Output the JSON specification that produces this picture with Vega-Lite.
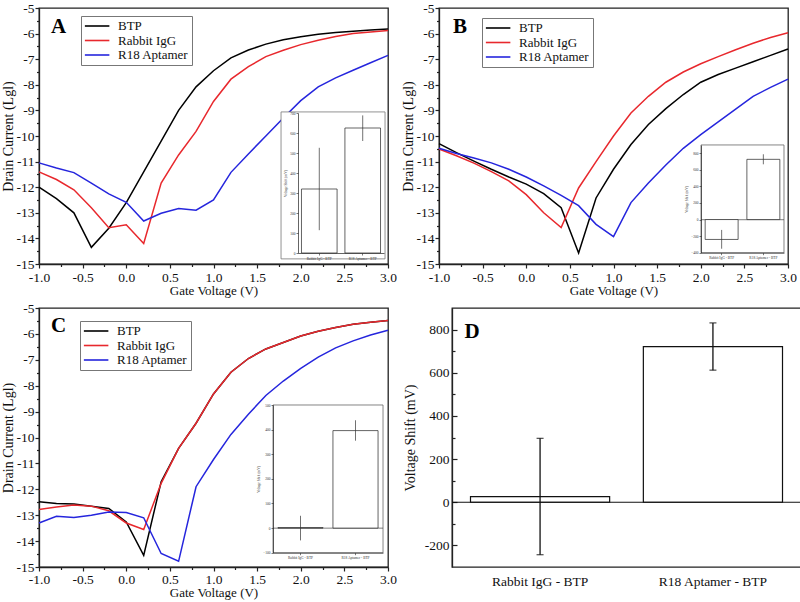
{
"$schema":"https://vega.github.io/schema/vega-lite/v6.json",
"background":"white",
"padding":{"left":0,"top":0,"right":0,"bottom":0},
"config":{
 "font":"Liberation Serif",
 "view":{"stroke":"#222","strokeWidth":1.3},
 "axis":{"labelFont":"Liberation Serif","titleFont":"Liberation Serif","labelFontSize":13.5,"titleFontSize":13,"titleFontWeight":"normal","labelColor":"#111","titleColor":"#111","domainColor":"#222","tickColor":"#222","grid":false,"domainWidth":1.3,"tickWidth":1.2}
},
"datasets":{
"curves":[
{"p":"A","s":"BTP","v":-1,"i":-12.0},{"p":"A","s":"BTP","v":-0.8,"i":-12.45},{"p":"A","s":"BTP","v":-0.6,"i":-13.0},{"p":"A","s":"BTP","v":-0.4,"i":-14.35},{"p":"A","s":"BTP","v":-0.2,"i":-13.6},{"p":"A","s":"BTP","v":0,"i":-12.6},{"p":"A","s":"BTP","v":0.2,"i":-11.4},{"p":"A","s":"BTP","v":0.4,"i":-10.2},{"p":"A","s":"BTP","v":0.6,"i":-9.0},{"p":"A","s":"BTP","v":0.8,"i":-8.08},{"p":"A","s":"BTP","v":1,"i":-7.45},{"p":"A","s":"BTP","v":1.2,"i":-6.95},{"p":"A","s":"BTP","v":1.4,"i":-6.64},{"p":"A","s":"BTP","v":1.6,"i":-6.41},{"p":"A","s":"BTP","v":1.8,"i":-6.24},{"p":"A","s":"BTP","v":2,"i":-6.12},{"p":"A","s":"BTP","v":2.2,"i":-6.03},{"p":"A","s":"BTP","v":2.4,"i":-5.96},{"p":"A","s":"BTP","v":2.6,"i":-5.91},{"p":"A","s":"BTP","v":2.8,"i":-5.86},{"p":"A","s":"BTP","v":3,"i":-5.82},
{"p":"A","s":"Rabbit IgG","v":-1,"i":-11.4},{"p":"A","s":"Rabbit IgG","v":-0.8,"i":-11.7},{"p":"A","s":"Rabbit IgG","v":-0.6,"i":-12.1},{"p":"A","s":"Rabbit IgG","v":-0.4,"i":-12.8},{"p":"A","s":"Rabbit IgG","v":-0.2,"i":-13.58},{"p":"A","s":"Rabbit IgG","v":0,"i":-13.47},{"p":"A","s":"Rabbit IgG","v":0.2,"i":-14.2},{"p":"A","s":"Rabbit IgG","v":0.4,"i":-11.84},{"p":"A","s":"Rabbit IgG","v":0.6,"i":-10.74},{"p":"A","s":"Rabbit IgG","v":0.8,"i":-9.82},{"p":"A","s":"Rabbit IgG","v":1,"i":-8.65},{"p":"A","s":"Rabbit IgG","v":1.2,"i":-7.78},{"p":"A","s":"Rabbit IgG","v":1.4,"i":-7.29},{"p":"A","s":"Rabbit IgG","v":1.6,"i":-6.9},{"p":"A","s":"Rabbit IgG","v":1.8,"i":-6.65},{"p":"A","s":"Rabbit IgG","v":2,"i":-6.43},{"p":"A","s":"Rabbit IgG","v":2.2,"i":-6.26},{"p":"A","s":"Rabbit IgG","v":2.4,"i":-6.11},{"p":"A","s":"Rabbit IgG","v":2.6,"i":-6.0},{"p":"A","s":"Rabbit IgG","v":2.8,"i":-5.94},{"p":"A","s":"Rabbit IgG","v":3,"i":-5.88},
{"p":"A","s":"R18 Aptamer","v":-1,"i":-11.05},{"p":"A","s":"R18 Aptamer","v":-0.8,"i":-11.25},{"p":"A","s":"R18 Aptamer","v":-0.6,"i":-11.43},{"p":"A","s":"R18 Aptamer","v":-0.4,"i":-11.84},{"p":"A","s":"R18 Aptamer","v":-0.2,"i":-12.26},{"p":"A","s":"R18 Aptamer","v":0,"i":-12.59},{"p":"A","s":"R18 Aptamer","v":0.2,"i":-13.32},{"p":"A","s":"R18 Aptamer","v":0.4,"i":-13.02},{"p":"A","s":"R18 Aptamer","v":0.6,"i":-12.83},{"p":"A","s":"R18 Aptamer","v":0.8,"i":-12.9},{"p":"A","s":"R18 Aptamer","v":1,"i":-12.5},{"p":"A","s":"R18 Aptamer","v":1.2,"i":-11.42},{"p":"A","s":"R18 Aptamer","v":1.4,"i":-10.7},{"p":"A","s":"R18 Aptamer","v":1.6,"i":-10.0},{"p":"A","s":"R18 Aptamer","v":1.8,"i":-9.3},{"p":"A","s":"R18 Aptamer","v":2,"i":-8.62},{"p":"A","s":"R18 Aptamer","v":2.2,"i":-8.08},{"p":"A","s":"R18 Aptamer","v":2.4,"i":-7.73},{"p":"A","s":"R18 Aptamer","v":2.6,"i":-7.43},{"p":"A","s":"R18 Aptamer","v":2.8,"i":-7.14},{"p":"A","s":"R18 Aptamer","v":3,"i":-6.85},
{"p":"B","s":"BTP","v":-1,"i":-10.3},{"p":"B","s":"BTP","v":-0.8,"i":-10.65},{"p":"B","s":"BTP","v":-0.6,"i":-10.98},{"p":"B","s":"BTP","v":-0.4,"i":-11.3},{"p":"B","s":"BTP","v":-0.2,"i":-11.6},{"p":"B","s":"BTP","v":0,"i":-11.88},{"p":"B","s":"BTP","v":0.2,"i":-12.25},{"p":"B","s":"BTP","v":0.4,"i":-12.8},{"p":"B","s":"BTP","v":0.6,"i":-14.57},{"p":"B","s":"BTP","v":0.8,"i":-12.42},{"p":"B","s":"BTP","v":1,"i":-11.3},{"p":"B","s":"BTP","v":1.2,"i":-10.33},{"p":"B","s":"BTP","v":1.4,"i":-9.55},{"p":"B","s":"BTP","v":1.6,"i":-8.93},{"p":"B","s":"BTP","v":1.8,"i":-8.38},{"p":"B","s":"BTP","v":2,"i":-7.9},{"p":"B","s":"BTP","v":2.2,"i":-7.6},{"p":"B","s":"BTP","v":2.4,"i":-7.35},{"p":"B","s":"BTP","v":2.6,"i":-7.1},{"p":"B","s":"BTP","v":2.8,"i":-6.85},{"p":"B","s":"BTP","v":3,"i":-6.6},
{"p":"B","s":"Rabbit IgG","v":-1,"i":-10.51},{"p":"B","s":"Rabbit IgG","v":-0.8,"i":-10.77},{"p":"B","s":"Rabbit IgG","v":-0.6,"i":-11.06},{"p":"B","s":"Rabbit IgG","v":-0.4,"i":-11.39},{"p":"B","s":"Rabbit IgG","v":-0.2,"i":-11.75},{"p":"B","s":"Rabbit IgG","v":0,"i":-12.29},{"p":"B","s":"Rabbit IgG","v":0.2,"i":-13.0},{"p":"B","s":"Rabbit IgG","v":0.4,"i":-13.58},{"p":"B","s":"Rabbit IgG","v":0.6,"i":-12.03},{"p":"B","s":"Rabbit IgG","v":0.8,"i":-11.0},{"p":"B","s":"Rabbit IgG","v":1,"i":-10.0},{"p":"B","s":"Rabbit IgG","v":1.2,"i":-9.1},{"p":"B","s":"Rabbit IgG","v":1.4,"i":-8.45},{"p":"B","s":"Rabbit IgG","v":1.6,"i":-7.9},{"p":"B","s":"Rabbit IgG","v":1.8,"i":-7.5},{"p":"B","s":"Rabbit IgG","v":2,"i":-7.18},{"p":"B","s":"Rabbit IgG","v":2.2,"i":-6.9},{"p":"B","s":"Rabbit IgG","v":2.4,"i":-6.63},{"p":"B","s":"Rabbit IgG","v":2.6,"i":-6.38},{"p":"B","s":"Rabbit IgG","v":2.8,"i":-6.15},{"p":"B","s":"Rabbit IgG","v":3,"i":-5.97},
{"p":"B","s":"R18 Aptamer","v":-1,"i":-10.48},{"p":"B","s":"R18 Aptamer","v":-0.8,"i":-10.68},{"p":"B","s":"R18 Aptamer","v":-0.6,"i":-10.86},{"p":"B","s":"R18 Aptamer","v":-0.4,"i":-11.05},{"p":"B","s":"R18 Aptamer","v":-0.2,"i":-11.3},{"p":"B","s":"R18 Aptamer","v":0,"i":-11.6},{"p":"B","s":"R18 Aptamer","v":0.2,"i":-11.95},{"p":"B","s":"R18 Aptamer","v":0.4,"i":-12.32},{"p":"B","s":"R18 Aptamer","v":0.6,"i":-12.72},{"p":"B","s":"R18 Aptamer","v":0.8,"i":-13.45},{"p":"B","s":"R18 Aptamer","v":1,"i":-13.93},{"p":"B","s":"R18 Aptamer","v":1.2,"i":-12.6},{"p":"B","s":"R18 Aptamer","v":1.4,"i":-11.84},{"p":"B","s":"R18 Aptamer","v":1.6,"i":-11.13},{"p":"B","s":"R18 Aptamer","v":1.8,"i":-10.48},{"p":"B","s":"R18 Aptamer","v":2,"i":-9.95},{"p":"B","s":"R18 Aptamer","v":2.2,"i":-9.45},{"p":"B","s":"R18 Aptamer","v":2.4,"i":-8.95},{"p":"B","s":"R18 Aptamer","v":2.6,"i":-8.45},{"p":"B","s":"R18 Aptamer","v":2.8,"i":-8.1},{"p":"B","s":"R18 Aptamer","v":3,"i":-7.78},
{"p":"C","s":"BTP","v":-1,"i":-12.48},{"p":"C","s":"BTP","v":-0.8,"i":-12.55},{"p":"C","s":"BTP","v":-0.6,"i":-12.57},{"p":"C","s":"BTP","v":-0.4,"i":-12.65},{"p":"C","s":"BTP","v":-0.2,"i":-12.74},{"p":"C","s":"BTP","v":0,"i":-13.26},{"p":"C","s":"BTP","v":0.2,"i":-14.55},{"p":"C","s":"BTP","v":0.4,"i":-11.71},{"p":"C","s":"BTP","v":0.6,"i":-10.42},{"p":"C","s":"BTP","v":0.8,"i":-9.45},{"p":"C","s":"BTP","v":1,"i":-8.32},{"p":"C","s":"BTP","v":1.2,"i":-7.48},{"p":"C","s":"BTP","v":1.4,"i":-6.95},{"p":"C","s":"BTP","v":1.6,"i":-6.58},{"p":"C","s":"BTP","v":1.8,"i":-6.33},{"p":"C","s":"BTP","v":2,"i":-6.08},{"p":"C","s":"BTP","v":2.2,"i":-5.9},{"p":"C","s":"BTP","v":2.4,"i":-5.75},{"p":"C","s":"BTP","v":2.6,"i":-5.63},{"p":"C","s":"BTP","v":2.8,"i":-5.55},{"p":"C","s":"BTP","v":3,"i":-5.48},
{"p":"C","s":"Rabbit IgG","v":-1,"i":-12.78},{"p":"C","s":"Rabbit IgG","v":-0.8,"i":-12.68},{"p":"C","s":"Rabbit IgG","v":-0.6,"i":-12.61},{"p":"C","s":"Rabbit IgG","v":-0.4,"i":-12.65},{"p":"C","s":"Rabbit IgG","v":-0.2,"i":-12.83},{"p":"C","s":"Rabbit IgG","v":0,"i":-13.3},{"p":"C","s":"Rabbit IgG","v":0.2,"i":-13.55},{"p":"C","s":"Rabbit IgG","v":0.4,"i":-11.77},{"p":"C","s":"Rabbit IgG","v":0.6,"i":-10.42},{"p":"C","s":"Rabbit IgG","v":0.8,"i":-9.45},{"p":"C","s":"Rabbit IgG","v":1,"i":-8.32},{"p":"C","s":"Rabbit IgG","v":1.2,"i":-7.48},{"p":"C","s":"Rabbit IgG","v":1.4,"i":-6.95},{"p":"C","s":"Rabbit IgG","v":1.6,"i":-6.58},{"p":"C","s":"Rabbit IgG","v":1.8,"i":-6.33},{"p":"C","s":"Rabbit IgG","v":2,"i":-6.08},{"p":"C","s":"Rabbit IgG","v":2.2,"i":-5.9},{"p":"C","s":"Rabbit IgG","v":2.4,"i":-5.75},{"p":"C","s":"Rabbit IgG","v":2.6,"i":-5.63},{"p":"C","s":"Rabbit IgG","v":2.8,"i":-5.55},{"p":"C","s":"Rabbit IgG","v":3,"i":-5.48},
{"p":"C","s":"R18 Aptamer","v":-1,"i":-13.3},{"p":"C","s":"R18 Aptamer","v":-0.8,"i":-13.04},{"p":"C","s":"R18 Aptamer","v":-0.6,"i":-13.09},{"p":"C","s":"R18 Aptamer","v":-0.4,"i":-13.0},{"p":"C","s":"R18 Aptamer","v":-0.2,"i":-12.88},{"p":"C","s":"R18 Aptamer","v":0,"i":-12.9},{"p":"C","s":"R18 Aptamer","v":0.2,"i":-13.1},{"p":"C","s":"R18 Aptamer","v":0.4,"i":-14.48},{"p":"C","s":"R18 Aptamer","v":0.6,"i":-14.78},{"p":"C","s":"R18 Aptamer","v":0.8,"i":-11.9},{"p":"C","s":"R18 Aptamer","v":1,"i":-10.85},{"p":"C","s":"R18 Aptamer","v":1.2,"i":-9.88},{"p":"C","s":"R18 Aptamer","v":1.4,"i":-9.1},{"p":"C","s":"R18 Aptamer","v":1.6,"i":-8.38},{"p":"C","s":"R18 Aptamer","v":1.8,"i":-7.82},{"p":"C","s":"R18 Aptamer","v":2,"i":-7.33},{"p":"C","s":"R18 Aptamer","v":2.2,"i":-6.9},{"p":"C","s":"R18 Aptamer","v":2.4,"i":-6.54},{"p":"C","s":"R18 Aptamer","v":2.6,"i":-6.27},{"p":"C","s":"R18 Aptamer","v":2.8,"i":-6.04},{"p":"C","s":"R18 Aptamer","v":3,"i":-5.86}
],
"insets":[
{"p":"A","c":"Rabbit IgG - BTP","m":320,"lo":114,"hi":526},
{"p":"A","c":"R18 Aptamer - BTP","m":625,"lo":560,"hi":688},
{"p":"B","c":"Rabbit IgG - BTP","m":-240,"lo":-352,"hi":-125},
{"p":"B","c":"R18 Aptamer - BTP","m":727,"lo":667,"hi":788},
{"p":"C","c":"Rabbit IgG - BTP","m":2,"lo":-50,"hi":50},
{"p":"C","c":"R18 Aptamer - BTP","m":396,"lo":355,"hi":438},
{"p":"D","c":"Rabbit IgG - BTP","m":26,"lo":-243,"hi":296},
{"p":"D","c":"R18 Aptamer - BTP","m":721,"lo":612,"hi":831}
],
"boxes":[
{"p":"A","x1":1.774,"x2":2.966,"y1":-9.06,"y2":-14.8},
{"p":"B","x1":2.003,"x2":2.954,"y1":-10.35,"y2":-14.56},
{"p":"C","x1":1.682,"x2":2.943,"y1":-8.745,"y2":-14.45}
],
"zlines":[
{"p":"B","x1":2.003,"x2":2.954,"y":-13.27},
{"p":"C","x1":1.682,"x2":2.943,"y":-13.5}
],
"letters":[
{"p":"A","t":"A","v":-0.862,"i":-5.98},
{"p":"B","t":"B","v":-0.84,"i":-5.98},
{"p":"C","t":"C","v":-0.862,"i":-5.93},
{"p":"D","t":"D","c":"Rabbit IgG - BTP","m":760}
],
"zero":[{"z":0}]
},
"resolve":{"scale":{"color":"independent"},"legend":{"color":"independent"}},
"spacing":1,
"vconcat":[
{"hconcat":[
{"width":349,"height":256,
 "layer":[
  {"layer":[
   {"data":{"name":"curves"},"transform":[{"filter":"datum.p==='A'"}],
    "mark":{"type":"line","strokeWidth":1.5},
    "encoding":{
     "x":{"field":"v","type":"quantitative","scale":{"domain":[-1,3],"nice":false,"zero":false},"axis":{"orient":"bottom","title":"Gate Voltage (V)","values":[-1,-0.5,0,0.5,1,1.5,2,2.5,3],"labelExpr":"(datum.value<0?'-':'')+format(abs(datum.value),'.1f')","tickSize":4,"labelPadding":2,"titlePadding":1,"labelFlush":false,"labelOverlap":false}},
     "y":{"field":"i","type":"quantitative","scale":{"domain":[-15,-5],"nice":false,"zero":false},"axis":{"orient":"left","title":"Drain Current (Lgl)","titleFontSize":14,"values":[-15,-14,-13,-12,-11,-10,-9,-8,-7,-6,-5],"labelExpr":"''+datum.value","tickSize":4,"labelPadding":1,"titlePadding":1,"labelOverlap":false,"labelFlush":false}},
     "color":{"field":"s","type":"nominal","scale":{"domain":["BTP","Rabbit IgG","R18 Aptamer"],"range":["#000000","#e8282d","#2525dd"]},"legend":{"orient":"none","legendX":42,"legendY":8,"title":null,"symbolType":"M-1,0H3","symbolSize":150,"symbolOffset":0,"symbolStrokeWidth":1.6,"labelFontSize":13,"labelFont":"Liberation Serif","labelColor":"#111","strokeColor":"#777","fillColor":"white","padding":3,"rowPadding":0.5,"labelOffset":20}}}},
   {"data":{"name":"boxes"},"transform":[{"filter":"datum.p==='A'"}],
    "mark":{"type":"rect","fill":"white","stroke":"#777","strokeWidth":0.8},
    "encoding":{"x":{"field":"x1","type":"quantitative","scale":{"domain":[-1,3]},"axis":null},"x2":{"field":"x2"},"y":{"field":"y1","type":"quantitative","scale":{"domain":[-15,-5]},"axis":null},"y2":{"field":"y2"}}},
   {"data":{"name":"letters"},"transform":[{"filter":"datum.p==='A'"}],
    "mark":{"type":"text","font":"Liberation Serif","fontSize":21,"fontWeight":"bold","align":"left","baseline":"alphabetic","color":"#000"},
    "encoding":{"x":{"field":"v","type":"quantitative","scale":{"domain":[-1,3]},"axis":{"orient":"bottom","values":[-0.75,-0.25,0.25,0.75,1.25,1.75,2.25,2.75],"labels":false,"domain":false,"title":null,"tickSize":2.5}},"y":{"field":"i","type":"quantitative","scale":{"domain":[-15,-5]},"axis":{"orient":"left","values":[-14.5,-13.5,-12.5,-11.5,-10.5,-9.5,-8.5,-7.5,-6.5,-5.5],"labels":false,"domain":false,"title":null,"tickSize":2.5}},"text":{"field":"t"}}}
  ],"resolve":{"axis":{"x":"independent","y":"independent"}}},
  {"layer":[
   {"data":{"name":"insets"},"transform":[{"filter":"datum.p==='A'"}],
    "mark":{"type":"bar","fill":"white","stroke":"#222","strokeWidth":0.7},
    "encoding":{
     "x":{"field":"c","type":"nominal","sort":null,"scale":{"domain":["Rabbit IgG - BTP","R18 Aptamer - BTP"],"range":[259,345],"paddingInner":0.18,"paddingOuter":0.08},"axis":{"orient":"bottom","offset":-11,"zindex":1,"title":null,"labelAngle":0,"labelFontSize":3.5,"labelPadding":1,"tickSize":2,"tickWidth":0.6,"domainWidth":0.7,"labelColor":"#333"}},
     "y":{"field":"m","type":"quantitative","scale":{"domain":[0,700],"range":[245,105],"nice":false},"axis":{"orient":"left","offset":-259,"zindex":1,"values":[0,100,200,300,400,500,600,700],"title":"Voltage Shift (mV)","titleFontSize":3.5,"titlePadding":2,"labelFontSize":3.5,"labelPadding":1,"tickSize":2,"tickWidth":0.6,"domainWidth":0.7,"labelColor":"#333","titleColor":"#333"}}}},
   {"data":{"name":"insets"},"transform":[{"filter":"datum.p==='A'"}],
    "mark":{"type":"rule","color":"#333","strokeWidth":0.7},
    "encoding":{"x":{"field":"c","type":"nominal","sort":null,"scale":{"domain":["Rabbit IgG - BTP","R18 Aptamer - BTP"]},"axis":null},"y":{"field":"lo","type":"quantitative","scale":{"domain":[0,700]},"axis":null},"y2":{"field":"hi"}}}
  ],"resolve":{"axis":{"x":"independent","y":"independent"}}}
 ],
 "resolve":{"scale":{"x":"independent","y":"independent"}}
},
{"width":349,"height":256,
 "layer":[
  {"layer":[
   {"data":{"name":"curves"},"transform":[{"filter":"datum.p==='B'"}],
    "mark":{"type":"line","strokeWidth":1.5},
    "encoding":{
     "x":{"field":"v","type":"quantitative","scale":{"domain":[-1,3],"nice":false,"zero":false},"axis":{"orient":"bottom","title":"Gate Voltage (V)","values":[-1,-0.5,0,0.5,1,1.5,2,2.5,3],"labelExpr":"(datum.value<0?'-':'')+format(abs(datum.value),'.1f')","tickSize":4,"labelPadding":2,"titlePadding":1,"labelFlush":false,"labelOverlap":false}},
     "y":{"field":"i","type":"quantitative","scale":{"domain":[-15,-5],"nice":false,"zero":false},"axis":{"orient":"left","title":"Drain Current (Lgl)","titleFontSize":14,"values":[-15,-14,-13,-12,-11,-10,-9,-8,-7,-6,-5],"labelExpr":"''+datum.value","tickSize":4,"labelPadding":1,"titlePadding":1,"labelOverlap":false,"labelFlush":false}},
     "color":{"field":"s","type":"nominal","scale":{"domain":["BTP","Rabbit IgG","R18 Aptamer"],"range":["#000000","#e8282d","#2525dd"]},"legend":{"orient":"none","legendX":43,"legendY":10,"title":null,"symbolType":"M-1,0H3","symbolSize":150,"symbolOffset":0,"symbolStrokeWidth":1.6,"labelFontSize":13,"labelFont":"Liberation Serif","labelColor":"#111","strokeColor":"#777","fillColor":"white","padding":3,"rowPadding":0.5,"labelOffset":20}}}},
   {"data":{"name":"boxes"},"transform":[{"filter":"datum.p==='B'"}],
    "mark":{"type":"rect","fill":"white","stroke":"#666","strokeWidth":0.8},
    "encoding":{"x":{"field":"x1","type":"quantitative","scale":{"domain":[-1,3]},"axis":null},"x2":{"field":"x2"},"y":{"field":"y1","type":"quantitative","scale":{"domain":[-15,-5]},"axis":null},"y2":{"field":"y2"}}},
   {"data":{"name":"zlines"},"transform":[{"filter":"datum.p==='B'"}],
    "mark":{"type":"rule","color":"#444","strokeWidth":0.7},
    "encoding":{"x":{"field":"x1","type":"quantitative","scale":{"domain":[-1,3]},"axis":null},"x2":{"field":"x2"},"y":{"field":"y","type":"quantitative","scale":{"domain":[-15,-5]},"axis":null}}},
   {"data":{"name":"letters"},"transform":[{"filter":"datum.p==='B'"}],
    "mark":{"type":"text","font":"Liberation Serif","fontSize":21,"fontWeight":"bold","align":"left","baseline":"alphabetic","color":"#000"},
    "encoding":{"x":{"field":"v","type":"quantitative","scale":{"domain":[-1,3]},"axis":{"orient":"bottom","values":[-0.75,-0.25,0.25,0.75,1.25,1.75,2.25,2.75],"labels":false,"domain":false,"title":null,"tickSize":2.5}},"y":{"field":"i","type":"quantitative","scale":{"domain":[-15,-5]},"axis":{"orient":"left","values":[-14.5,-13.5,-12.5,-11.5,-10.5,-9.5,-8.5,-7.5,-6.5,-5.5],"labels":false,"domain":false,"title":null,"tickSize":2.5}},"text":{"field":"t"}}}
  ],"resolve":{"axis":{"x":"independent","y":"independent"}}},
  {"layer":[
   {"data":{"name":"insets"},"transform":[{"filter":"datum.p==='B'"}],
    "mark":{"type":"bar","fill":"white","stroke":"#222","strokeWidth":0.7},
    "encoding":{
     "x":{"field":"c","type":"nominal","sort":null,"scale":{"domain":["Rabbit IgG - BTP","R18 Aptamer - BTP"],"range":[262,345],"paddingInner":0.21,"paddingOuter":0.1},"axis":{"orient":"bottom","offset":-11.3,"zindex":1,"title":null,"labelAngle":0,"labelFontSize":3.5,"labelPadding":1,"tickSize":2,"tickWidth":0.6,"domainWidth":0.7,"labelColor":"#333"}},
     "y":{"field":"m","type":"quantitative","scale":{"domain":[-400,900],"range":[244.7,137],"nice":false},"axis":{"orient":"left","offset":-262,"zindex":1,"values":[-400,-200,0,200,400,600,800],"title":"Voltage Shift (mV)","titleFontSize":3.5,"titlePadding":2,"labelFontSize":3.5,"labelPadding":1,"tickSize":2,"tickWidth":0.6,"domainWidth":0.7,"labelColor":"#333","titleColor":"#333"}}}},
   {"data":{"name":"insets"},"transform":[{"filter":"datum.p==='B'"}],
    "mark":{"type":"rule","color":"#333","strokeWidth":0.7},
    "encoding":{"x":{"field":"c","type":"nominal","sort":null,"scale":{"domain":["Rabbit IgG - BTP","R18 Aptamer - BTP"]},"axis":null},"y":{"field":"lo","type":"quantitative","scale":{"domain":[-400,900]},"axis":null},"y2":{"field":"hi"}}}
  ],"resolve":{"axis":{"x":"independent","y":"independent"}}}
 ],
 "resolve":{"scale":{"x":"independent","y":"independent"}}
}
],"spacing":2,"resolve":{"scale":{"color":"independent"},"legend":{"color":"independent"}}},
{"hconcat":[
{"width":349,"height":259,
 "layer":[
  {"layer":[
   {"data":{"name":"curves"},"transform":[{"filter":"datum.p==='C'"}],
    "mark":{"type":"line","strokeWidth":1.5},
    "encoding":{
     "x":{"field":"v","type":"quantitative","scale":{"domain":[-1,3],"nice":false,"zero":false},"axis":{"orient":"bottom","title":"Gate Voltage (V)","values":[-1,-0.5,0,0.5,1,1.5,2,2.5,3],"labelExpr":"(datum.value<0?'-':'')+format(abs(datum.value),'.1f')","tickSize":4,"labelPadding":1,"titlePadding":1,"labelFlush":false,"labelOverlap":false}},
     "y":{"field":"i","type":"quantitative","scale":{"domain":[-15,-5],"nice":false,"zero":false},"axis":{"orient":"left","title":"Drain Current (Lgl)","titleFontSize":14,"values":[-15,-14,-13,-12,-11,-10,-9,-8,-7,-6,-5],"labelExpr":"''+datum.value","tickSize":4,"labelPadding":1,"titlePadding":1,"labelOverlap":false,"labelFlush":false}},
     "color":{"field":"s","type":"nominal","scale":{"domain":["BTP","Rabbit IgG","R18 Aptamer"],"range":["#000000","#e8282d","#2525dd"]},"legend":{"orient":"none","legendX":41,"legendY":13,"title":null,"symbolType":"M-1,0H3","symbolSize":150,"symbolOffset":0,"symbolStrokeWidth":1.6,"labelFontSize":13,"labelFont":"Liberation Serif","labelColor":"#111","strokeColor":"#777","fillColor":"white","padding":3,"rowPadding":0.5,"labelOffset":20}}}},
   {"data":{"name":"boxes"},"transform":[{"filter":"datum.p==='C'"}],
    "mark":{"type":"rect","fill":"white","stroke":"#666","strokeWidth":0.8},
    "encoding":{"x":{"field":"x1","type":"quantitative","scale":{"domain":[-1,3]},"axis":null},"x2":{"field":"x2"},"y":{"field":"y1","type":"quantitative","scale":{"domain":[-15,-5]},"axis":null},"y2":{"field":"y2"}}},
   {"data":{"name":"zlines"},"transform":[{"filter":"datum.p==='C'"}],
    "mark":{"type":"rule","color":"#444","strokeWidth":0.7},
    "encoding":{"x":{"field":"x1","type":"quantitative","scale":{"domain":[-1,3]},"axis":null},"x2":{"field":"x2"},"y":{"field":"y","type":"quantitative","scale":{"domain":[-15,-5]},"axis":null}}},
   {"data":{"name":"letters"},"transform":[{"filter":"datum.p==='C'"}],
    "mark":{"type":"text","font":"Liberation Serif","fontSize":21,"fontWeight":"bold","align":"left","baseline":"alphabetic","color":"#000"},
    "encoding":{"x":{"field":"v","type":"quantitative","scale":{"domain":[-1,3]},"axis":{"orient":"bottom","values":[-0.75,-0.25,0.25,0.75,1.25,1.75,2.25,2.75],"labels":false,"domain":false,"title":null,"tickSize":2.5}},"y":{"field":"i","type":"quantitative","scale":{"domain":[-15,-5]},"axis":{"orient":"left","values":[-14.5,-13.5,-12.5,-11.5,-10.5,-9.5,-8.5,-7.5,-6.5,-5.5],"labels":false,"domain":false,"title":null,"tickSize":2.5}},"text":{"field":"t"}}}
  ],"resolve":{"axis":{"x":"independent","y":"independent"}}},
  {"layer":[
   {"data":{"name":"insets"},"transform":[{"filter":"datum.p==='C'"}],
    "mark":{"type":"bar","fill":"white","stroke":"#222","strokeWidth":0.7},
    "encoding":{
     "x":{"field":"c","type":"nominal","sort":null,"scale":{"domain":["Rabbit IgG - BTP","R18 Aptamer - BTP"],"range":[234,344],"paddingInner":0.18,"paddingOuter":0.09},"axis":{"orient":"bottom","offset":-14.3,"zindex":1,"title":null,"labelAngle":0,"labelFontSize":3.5,"labelPadding":1,"tickSize":2,"tickWidth":0.6,"domainWidth":0.7,"labelColor":"#333"}},
     "y":{"field":"m","type":"quantitative","scale":{"domain":[-100,500],"range":[244.7,97],"nice":false},"axis":{"orient":"left","offset":-234,"zindex":1,"values":[-100,0,100,200,300,400,500],"title":"Voltage Shift (mV)","titleFontSize":3.5,"titlePadding":2,"labelFontSize":3.5,"labelPadding":1,"tickSize":2,"tickWidth":0.6,"domainWidth":0.7,"labelColor":"#333","titleColor":"#333"}}}},
   {"data":{"name":"insets"},"transform":[{"filter":"datum.p==='C'"}],
    "mark":{"type":"rule","color":"#333","strokeWidth":0.7},
    "encoding":{"x":{"field":"c","type":"nominal","sort":null,"scale":{"domain":["Rabbit IgG - BTP","R18 Aptamer - BTP"]},"axis":null},"y":{"field":"lo","type":"quantitative","scale":{"domain":[-100,500]},"axis":null},"y2":{"field":"hi"}}}
  ],"resolve":{"axis":{"x":"independent","y":"independent"}}}
 ],
 "resolve":{"scale":{"x":"independent","y":"independent"}}
},
{"width":349,"height":259,
 "layer":[
  {"data":{"name":"insets"},"transform":[{"filter":"datum.p==='D'"}],
   "mark":{"type":"bar","fill":"white","stroke":"#111","strokeWidth":1.2},
   "encoding":{
    "x":{"field":"c","type":"nominal","sort":null,"scale":{"domain":["Rabbit IgG - BTP","R18 Aptamer - BTP"],"paddingInner":0.195,"paddingOuter":0.107},"axis":{"title":null,"labelAngle":0,"ticks":false,"labelPadding":7,"domain":false}},
    "y":{"field":"m","type":"quantitative","scale":{"domain":[-300,900],"nice":false},"axis":{"orient":"left","title":"Voltage Shift (mV)","titleFontSize":14,"values":[-200,0,200,400,600,800],"labelExpr":"(datum.value<0?'-':'')+abs(datum.value)","tickSize":-5,"labelPadding":8,"titlePadding":7,"labelOverlap":false,"labelFlush":false}}}},
  {"data":{"name":"zero"},
   "mark":{"type":"rule","color":"#111","strokeWidth":1.2},
   "encoding":{"y":{"field":"z","type":"quantitative","axis":{"orient":"left","values":[-100,100,300,500,700],"labels":false,"domain":false,"title":null,"tickSize":-3}}}},
  {"data":{"name":"insets"},"transform":[{"filter":"datum.p==='D'"}],
   "mark":{"type":"rule","color":"#111","strokeWidth":1.3},
   "encoding":{"x":{"field":"c","type":"nominal","sort":null},"y":{"field":"lo","type":"quantitative","axis":null},"y2":{"field":"hi"}}},
  {"data":{"name":"insets"},"transform":[{"filter":"datum.p==='D'"}],
   "mark":{"type":"tick","color":"#111","orient":"horizontal","size":7,"thickness":1.3},
   "encoding":{"x":{"field":"c","type":"nominal","sort":null},"y":{"field":"lo","type":"quantitative","axis":null}}},
  {"data":{"name":"insets"},"transform":[{"filter":"datum.p==='D'"}],
   "mark":{"type":"tick","color":"#111","orient":"horizontal","size":7,"thickness":1.3},
   "encoding":{"x":{"field":"c","type":"nominal","sort":null},"y":{"field":"hi","type":"quantitative","axis":null}}},
  {"data":{"name":"letters"},"transform":[{"filter":"datum.p==='D'"}],
   "mark":{"type":"text","font":"Liberation Serif","fontSize":21,"fontWeight":"bold","align":"left","baseline":"alphabetic","color":"#000","dx":-6},
   "encoding":{"x":{"field":"c","type":"nominal","sort":null,"bandPosition":0},"y":{"field":"m","type":"quantitative","axis":null},"text":{"field":"t"}}}
 ],
 "resolve":{"axis":{"y":"independent"}}
}
],"spacing":4,"resolve":{"scale":{"color":"independent"},"legend":{"color":"independent"}}}
]
}
